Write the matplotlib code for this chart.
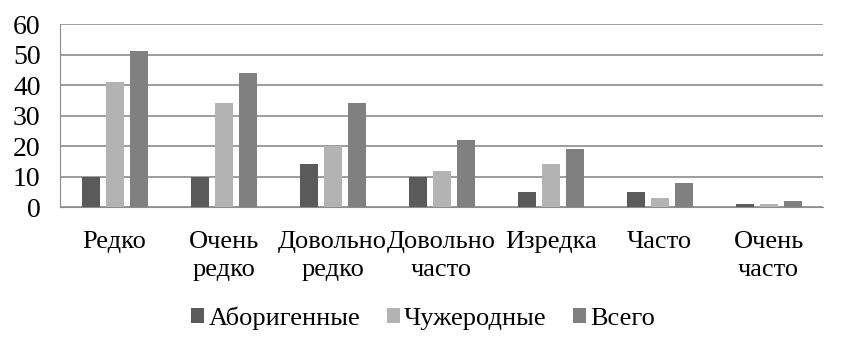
import numpy as np
import matplotlib.pyplot as plt

plt.rcParams['font.family'] = ['Liberation Serif', 'DejaVu Serif']

# данные
categories = ['Редко', 'Очень\nредко', 'Довольно\nредко', 'Довольно\nчасто',
              'Изредка', 'Часто', 'Очень\nчасто']
aborig = [10, 10, 14, 10, 5, 5, 1]
alien = [41, 34, 20, 12, 14, 3, 1]
total = [51, 44, 34, 22, 19, 8, 2]
series_names = ['Аборигенные', 'Чужеродные', 'Всего']
colors = ['#5a5a5a', '#b3b3b3', '#808080']

fig = plt.figure(figsize=(8.46, 3.43), dpi=100)
ax = fig.add_axes([0.071, 0.396, 0.902, 0.534])

x = np.arange(len(categories))
w = 0.165
step = 0.22
for i, (vals, name, c) in enumerate(zip([aborig, alien, total], series_names, colors)):
    ax.bar(x + (i - 1) * step, vals, width=w, color=c, label=name, zorder=3)

ax.set_xlim(-0.5, len(categories) - 0.5)
ax.set_ylim(0, 60)
ax.set_yticks(range(0, 61, 10))
ax.set_xticks(x)
ax.set_xticklabels(categories, fontsize=19, linespacing=1.35)
ax.tick_params(axis='y', labelsize=20, length=0, pad=14)
ax.tick_params(axis='x', length=0, pad=17)
ax.grid(axis='y', color='#8c8c8c', linewidth=1.2, zorder=0)
for s in ['top', 'right']:
    ax.spines[s].set_visible(False)
ax.spines['left'].set_color('#8c8c8c')
ax.spines['bottom'].set_color('#8c8c8c')

fig.legend(loc='center', bbox_to_anchor=(0.5, 0.073), ncol=3, frameon=False,
           fontsize=19, handlelength=0.5, handleheight=0.5, handletextpad=0.15,
           columnspacing=1.0)

fig.savefig('out.png', dpi=100)
